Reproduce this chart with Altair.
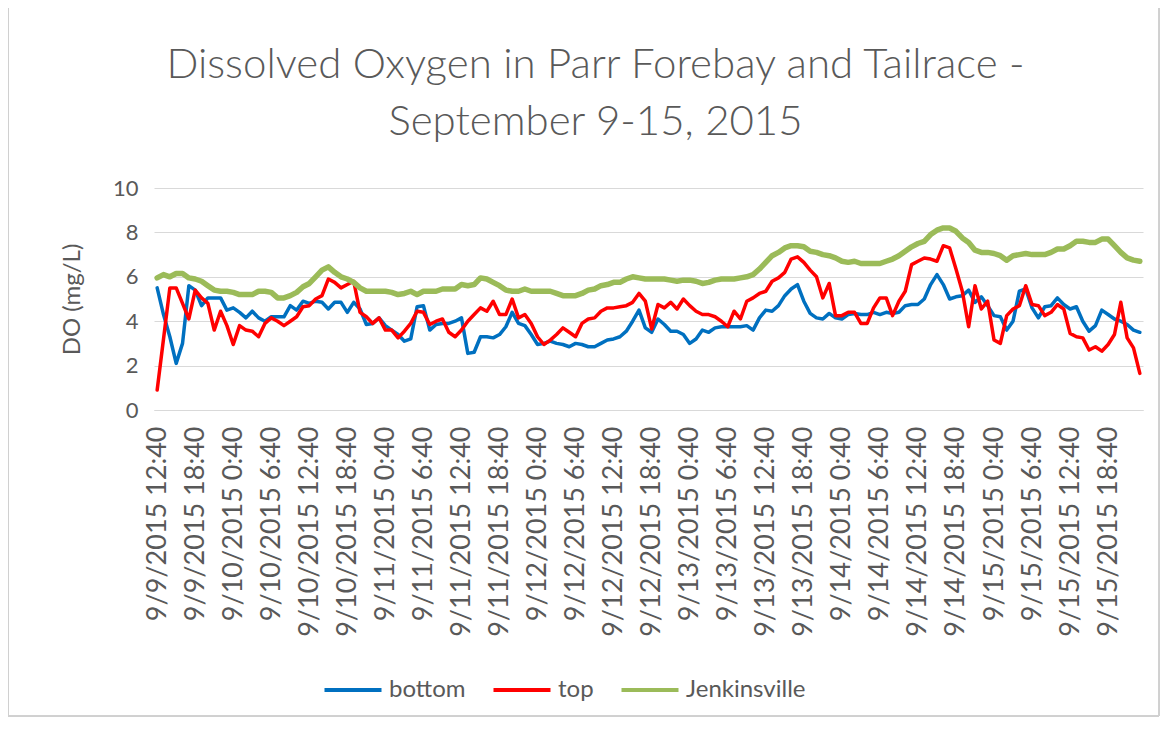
import altair as alt
import pandas as pd

# hourly category labels, 9/9/2015 12:40 onward (156 readings)
times = pd.date_range("2015-09-09 12:40", periods=156, freq="h")
categories = [f"{t.month}/{t.day}/{t.year} {t.hour}:{t.minute:02d}" for t in times]

tick_labels = [
    "9/9/2015 12:40", "9/9/2015 18:40",
    "9/10/2015 0:40", "9/10/2015 6:40", "9/10/2015 12:40", "9/10/2015 18:40",
    "9/11/2015 0:40", "9/11/2015 6:40", "9/11/2015 12:40", "9/11/2015 18:40",
    "9/12/2015 0:40", "9/12/2015 6:40", "9/12/2015 12:40", "9/12/2015 18:40",
    "9/13/2015 0:40", "9/13/2015 6:40", "9/13/2015 12:40", "9/13/2015 18:40",
    "9/14/2015 0:40", "9/14/2015 6:40", "9/14/2015 12:40", "9/14/2015 18:40",
    "9/15/2015 0:40", "9/15/2015 6:40", "9/15/2015 12:40", "9/15/2015 18:40",
]

bottom = [
    5.5, 4.3, 3.3, 2.1, 3.0, 5.6, 5.4, 4.7, 5.05, 5.05,
    5.05, 4.5, 4.6, 4.4, 4.15, 4.45, 4.15, 4.0, 4.2, 4.2,
    4.2, 4.7, 4.5, 4.9, 4.8, 4.9, 4.85, 4.55, 4.85, 4.85,
    4.4, 4.85, 4.55, 3.85, 3.9, 4.15, 3.8, 3.6, 3.4, 3.1,
    3.2, 4.65, 4.7, 3.6, 3.85, 3.9, 3.9, 4.0, 4.15, 2.55,
    2.6, 3.3, 3.3, 3.25, 3.4, 3.75, 4.4, 3.9, 3.8, 3.4,
    2.95, 3.0, 3.1, 3.0, 2.95, 2.85, 3.0, 2.95, 2.85, 2.85,
    3.0, 3.15, 3.2, 3.3, 3.55, 4.0, 4.5, 3.7, 3.5, 4.1,
    3.85, 3.55, 3.55, 3.4, 3.0, 3.2, 3.6, 3.5, 3.7, 3.75,
    3.75, 3.75, 3.75, 3.8, 3.6, 4.15, 4.5, 4.45, 4.7, 5.15,
    5.45, 5.65, 4.9, 4.35, 4.15, 4.1, 4.35, 4.15, 4.1, 4.3,
    4.35, 4.3, 4.3, 4.4, 4.3, 4.4, 4.35, 4.4, 4.7, 4.75,
    4.75, 5.0, 5.65, 6.1, 5.65, 5.0, 5.1, 5.15, 5.4, 4.85,
    5.1, 4.7, 4.25, 4.2, 3.6, 4.0, 5.35, 5.45, 4.6, 4.15,
    4.65, 4.7, 5.05, 4.75, 4.55, 4.65, 4.0, 3.55, 3.8, 4.5,
    4.3, 4.1, 4.0, 3.85, 3.6, 3.5,
]

top = [
    0.9, 3.2, 5.5, 5.5, 4.8, 4.1, 5.4, 5.05, 4.8, 3.6,
    4.45, 3.8, 2.95, 3.8, 3.6, 3.55, 3.3, 3.9, 4.15, 4.0,
    3.8, 4.0, 4.2, 4.65, 4.7, 5.0, 5.15, 5.9, 5.75, 5.5,
    5.65, 5.8, 4.4, 4.2, 3.9, 4.15, 3.6, 3.6, 3.25, 3.55,
    3.9, 4.45, 4.4, 3.85, 4.0, 4.1, 3.5, 3.3, 3.6, 4.0,
    4.3, 4.6, 4.45, 4.9, 4.3, 4.3, 5.0, 4.15, 4.3, 3.9,
    3.3, 2.95, 3.15, 3.4, 3.7, 3.5, 3.3, 3.9, 4.1, 4.15,
    4.45, 4.6, 4.6, 4.65, 4.7, 4.85, 5.25, 4.9, 3.65, 4.75,
    4.6, 4.85, 4.55, 5.0, 4.7, 4.45, 4.3, 4.3, 4.2, 4.0,
    3.75, 4.45, 4.1, 4.9, 5.05, 5.25, 5.35, 5.8, 5.95, 6.2,
    6.8, 6.9, 6.65, 6.3, 6.0, 5.05, 5.7, 4.25, 4.25, 4.4,
    4.4, 3.9, 3.9, 4.6, 5.05, 5.05, 4.25, 4.9, 5.35, 6.55,
    6.7, 6.85, 6.8, 6.7, 7.4, 7.3, 6.35, 5.35, 3.75, 5.6,
    4.55, 4.9, 3.15, 3.0, 4.25, 4.55, 4.7, 5.6, 4.75, 4.7,
    4.25, 4.4, 4.75, 4.55, 3.45, 3.3, 3.25, 2.7, 2.85, 2.65,
    2.95, 3.4, 4.85, 3.25, 2.8, 1.65,
]

jenkinsville = [
    5.95, 6.1, 6.0, 6.15, 6.15, 5.95, 5.9, 5.8, 5.6, 5.4,
    5.35, 5.35, 5.3, 5.2, 5.2, 5.2, 5.35, 5.35, 5.3, 5.05,
    5.05, 5.15, 5.3, 5.55, 5.7, 6.0, 6.3, 6.45, 6.2, 6.0,
    5.9, 5.75, 5.5, 5.35, 5.35, 5.35, 5.35, 5.3, 5.2, 5.25,
    5.35, 5.2, 5.35, 5.35, 5.35, 5.45, 5.45, 5.45, 5.65, 5.6,
    5.65, 5.95, 5.9, 5.75, 5.6, 5.4, 5.35, 5.35, 5.45, 5.35,
    5.35, 5.35, 5.35, 5.25, 5.15, 5.15, 5.15, 5.25, 5.4, 5.45,
    5.6, 5.65, 5.75, 5.75, 5.9, 6.0, 5.95, 5.9, 5.9, 5.9,
    5.9, 5.85, 5.8, 5.85, 5.85, 5.8, 5.7, 5.75, 5.85, 5.9,
    5.9, 5.9, 5.95, 6.0, 6.1, 6.35, 6.65, 6.95, 7.1, 7.3,
    7.4, 7.4, 7.35, 7.15, 7.1, 7.0, 6.95, 6.85, 6.7, 6.65,
    6.7, 6.6, 6.6, 6.6, 6.6, 6.7, 6.8, 6.95, 7.15, 7.35,
    7.5, 7.6, 7.9, 8.1, 8.2, 8.2, 8.05, 7.75, 7.55, 7.2,
    7.1, 7.1, 7.05, 6.95, 6.75, 6.95, 7.0, 7.05, 7.0, 7.0,
    7.0, 7.1, 7.25, 7.25, 7.4, 7.6, 7.6, 7.55, 7.55, 7.7,
    7.7, 7.4, 7.1, 6.85, 6.75, 6.7,
]

series_names = ["bottom", "top", "Jenkinsville"]
series_colors = ["#0070C0", "#FF0000", "#9BBB59"]
series_values = [bottom, top, jenkinsville]
series_widths = [3.5, 3.5, 5.5]

rows = []
for name, vals in zip(series_names, series_values):
    for t, v in zip(categories, vals):
        rows.append({"time": t, "value": v, "series": name})
df = pd.DataFrame(rows)

FONT = "Lato"
GRAY = "#595959"

x_enc = alt.X(
    "time:O",
    sort=categories,
    scale=alt.Scale(type="point", padding=0.5),
    axis=alt.Axis(
        values=tick_labels, labelAngle=-90, title=None, ticks=False, grid=False,
        domainColor="#d9d9d9", domainWidth=1, labelFontSize=27, labelPadding=16,
        labelOverlap=False, labelLimit=500, labelFont=FONT, labelColor=GRAY,
    ),
)
y_enc = alt.Y(
    "value:Q",
    scale=alt.Scale(domain=[0, 10]),
    axis=alt.Axis(
        values=[0, 2, 4, 6, 8, 10], title="DO (mg/L)", grid=True, gridColor="#d9d9d9",
        domain=False, ticks=False, labelFontSize=22, labelPadding=16, labelFont=FONT,
        labelColor=GRAY, titleFont=FONT, titleFontSize=24, titleFontWeight="normal",
        titleColor=GRAY, titlePadding=28,
    ),
)
color_enc = alt.Color(
    "series:N",
    scale=alt.Scale(domain=series_names, range=series_colors),
    legend=alt.Legend(
        title=None, orient="none", legendX=168, legendY=471, direction="horizontal",
        symbolType="stroke", symbolSize=3250, symbolStrokeWidth=4, labelFont=FONT,
        labelFontSize=24, labelColor=GRAY, columnPadding=19, labelOffset=5,
    ),
)

layers = []
for name, w in zip(series_names, series_widths):
    layers.append(
        alt.Chart(df)
        .transform_filter(alt.datum.series == name)
        .mark_line(strokeWidth=w, strokeJoin="round", strokeCap="round")
        .encode(x=x_enc, y=y_enc, color=color_enc)
    )

border = alt.Chart(df).mark_rect(fill=None, stroke="#d0d0d0", strokeWidth=1).encode(
    x=alt.value(-146), x2=alt.value(1005), y=alt.value(-195), y2=alt.value(528)
)

chart = (
    alt.layer(*layers, border)
    .properties(
        width=989,
        height=222,
        autosize=alt.AutoSizeParams(type="none"),
        padding={"left": 146, "top": 180, "right": 17, "bottom": 315},
        title=alt.TitleParams(
            text=["Dissolved Oxygen in Parr Forebay and Tailrace -", "September 9-15, 2015"],
            font=FONT, fontSize=42, fontWeight=300, color=GRAY, lineHeight=57,
            anchor="middle", offset=-151, dx=-53,
        ),
    )
    .configure_view(stroke=None)
)

chart.save("out.html", embed_options={"renderer": "svg", "actions": False})
